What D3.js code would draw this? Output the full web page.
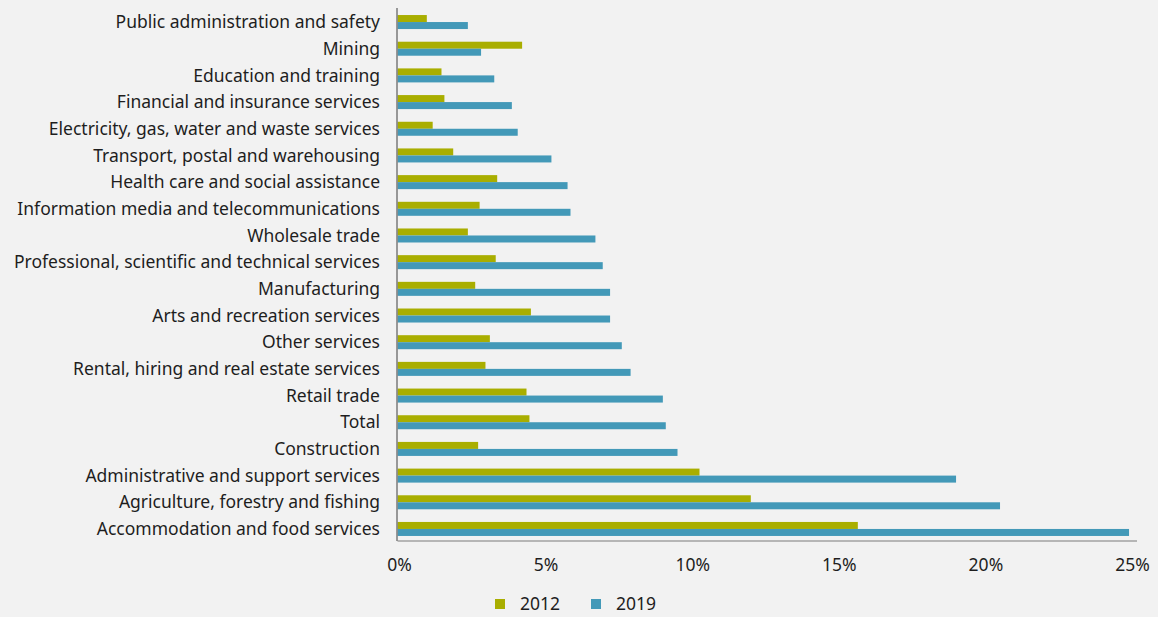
<!DOCTYPE html>
<html>
<head>
<meta charset="utf-8">
<script src="https://cdn.jsdelivr.net/npm/d3@7"></script>
<style>
  body { margin: 0; background: #f2f2f2; }
  svg { display: block; }
  text { font-family: "Noto Sans", "Lato", sans-serif; fill: #1e1e1e; }
</style>
</head>
<body>
<div id="chart"></div>
<script>
// Categories, top to bottom
const categories = [
  "Public administration and safety",
  "Mining",
  "Education and training",
  "Financial and insurance services",
  "Electricity, gas, water and waste services",
  "Transport, postal and warehousing",
  "Health care and social assistance",
  "Information media and telecommunications",
  "Wholesale trade",
  "Professional, scientific and technical services",
  "Manufacturing",
  "Arts and recreation services",
  "Other services",
  "Rental, hiring and real estate services",
  "Retail trade",
  "Total",
  "Construction",
  "Administrative and support services",
  "Agriculture, forestry and fishing",
  "Accommodation and food services"
];

// Values in percent
const values2012 = [1.0, 4.25, 1.5, 1.6, 1.2, 1.9, 3.4, 2.8, 2.4, 3.35, 2.65, 4.55, 3.15, 3.0, 4.4, 4.5, 2.75, 10.3, 12.05, 15.7];
const values2019 = [2.4, 2.85, 3.3, 3.9, 4.1, 5.25, 5.8, 5.9, 6.75, 7.0, 7.25, 7.25, 7.65, 7.95, 9.05, 9.15, 9.55, 19.05, 20.55, 24.95];

const seriesNames = ["2012", "2019"];
const xTicks = [0, 5, 10, 15, 20, 25];

const colors = {"2012": "#a9ae00", "2019": "#4399b8"};

const W = 1158, H = 617;
const x0 = 397.5, pxPerPct = 29.32;

const svg = d3.select("#chart")
  .append("svg")
    .attr("width", W)
    .attr("height", H);

// Scales
const x = d3.scaleLinear()
  .domain([0, 25])
  .range([x0, x0 + 25 * pxPerPct]);

const y = d3.scaleBand()
  .domain(categories)
  .range([8.7, 542.3])
  .paddingInner(0.475)
  .paddingOuter(0.2375);

const ySub = d3.scaleBand()
  .domain(seriesNames)
  .range([0, y.bandwidth()]);

const rows = categories.map((c, i) => ({cat: c, "2012": values2012[i], "2019": values2019[i]}));

// Bars
const groups = svg.append("g")
  .selectAll("g")
  .data(rows)
  .join("g")
    .attr("transform", d => `translate(0, ${y(d.cat)})`);

groups.selectAll("rect")
  .data(d => seriesNames.map(s => ({key: s, value: d[s]})))
  .join("rect")
    .attr("x", x(0))
    .attr("y", d => ySub(d.key))
    .attr("width", d => x(d.value) - x(0))
    .attr("height", ySub.bandwidth())
    .attr("fill", d => colors[d.key]);

// Axes lines
const axisBottomY = 541;
svg.append("line")
  .attr("x1", x(0)).attr("x2", 1137)
  .attr("y1", axisBottomY).attr("y2", axisBottomY)
  .attr("stroke", "#7a7a7a").attr("stroke-width", 1);

svg.append("line")
  .attr("x1", x(0) - 0.5).attr("x2", x(0) - 0.5)
  .attr("y1", 8).attr("y2", axisBottomY)
  .attr("stroke", "#7a7a7a").attr("stroke-width", 1.5);

// Category labels
svg.append("g")
  .selectAll("text")
  .data(categories)
  .join("text")
    .attr("x", 380)
    .attr("y", d => y(d) + y.bandwidth() / 2)
    .attr("dy", "0.35em")
    .attr("text-anchor", "end")
    .style("font-size", "17.5px")
    .text(d => d);

// X tick labels
svg.append("g")
  .selectAll("text")
  .data(xTicks)
  .join("text")
    .attr("x", d => x(d) + 2)
    .attr("y", 565)
    .attr("dy", "0.35em")
    .attr("text-anchor", "middle")
    .style("font-size", "17.5px")
    .text(d => d + "%");

// Legend
const legend = svg.append("g")
  .selectAll("g")
  .data(seriesNames)
  .join("g")
    .attr("transform", (d, i) => `translate(${495 + i * 96}, 599)`);

legend.append("rect")
  .attr("width", 10)
  .attr("height", 10)
  .attr("fill", d => colors[d]);

legend.append("text")
  .attr("x", 25)
  .attr("y", 5)
  .attr("dy", "0.35em")
  .style("font-size", "17.5px")
  .text(d => d);
</script>
</body>
</html>
